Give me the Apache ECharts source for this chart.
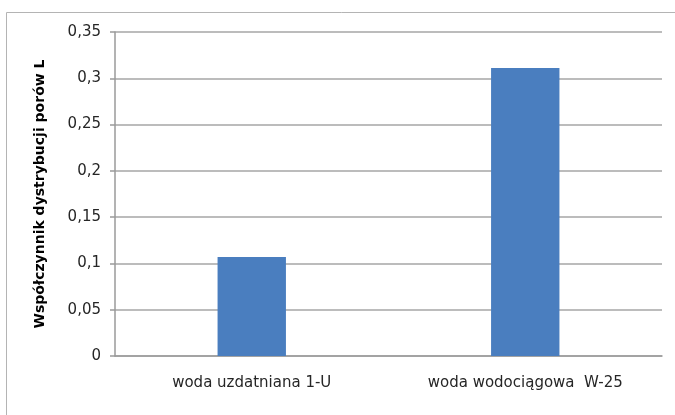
<!DOCTYPE html>
<html>
<head>
<meta charset="utf-8">
<script src="https://cdn.jsdelivr.net/npm/echarts@6/dist/echarts.min.js"></script>
<style>
  html, body { margin: 0; padding: 0; background: #ffffff; }
  #chart { width: 675px; height: 415px; }
</style>
</head>
<body>
<div id="chart"></div>
<script>
// Pore distribution coefficient L for two kinds of water
const categories = ['woda uzdatniana 1-U', 'woda wodociągowa  W-25'];
const values = [0.107, 0.311];
const yAxisTitle = 'Współczynnik dystrybucji porów L';

const chart = echarts.init(document.getElementById('chart'), null, { renderer: 'canvas' });

const fmt = v => String(+v.toFixed(2)).replace('.', ',');

chart.setOption({
  animation: false,
  backgroundColor: '#ffffff',
  graphic: [{
    type: 'rect',
    shape: { x: 6.5, y: 12.5, width: 720, height: 440 },
    style: { fill: 'none', stroke: '#b4b4b4', lineWidth: 1 },
    silent: true
  }],
  grid: { left: 115, right: 13, top: 32, bottom: 59, containLabel: false },
  xAxis: {
    type: 'category',
    data: categories,
    axisLine: { show: true, lineStyle: { color: '#9a9a9a', width: 1.5 } },
    axisTick: { show: false },
    axisLabel: {
      color: '#262626',
      fontFamily: 'DejaVu Sans',
      fontSize: 15,
      margin: 20
    }
  },
  yAxis: {
    type: 'value',
    min: 0,
    max: 0.35,
    interval: 0.05,
    name: yAxisTitle,
    nameLocation: 'middle',
    nameGap: 68,
    nameTextStyle: {
      color: '#000000',
      fontFamily: 'DejaVu Sans',
      fontWeight: 'bold',
      fontSize: 14
    },
    axisLine: { show: true, lineStyle: { color: '#9a9a9a', width: 1.5 } },
    axisTick: { show: true, length: 5, lineStyle: { color: '#9a9a9a', width: 1.5 } },
    splitLine: { show: true, lineStyle: { color: '#a6a6a6', width: 1.5 } },
    axisLabel: {
      color: '#262626',
      fontFamily: 'DejaVu Sans',
      fontSize: 15,
      margin: 14,
      formatter: fmt
    }
  },
  series: [{
    type: 'bar',
    data: values,
    barWidth: '25%',
    itemStyle: { color: '#4a7ebf' }
  }]
});
</script>
</body>
</html>
